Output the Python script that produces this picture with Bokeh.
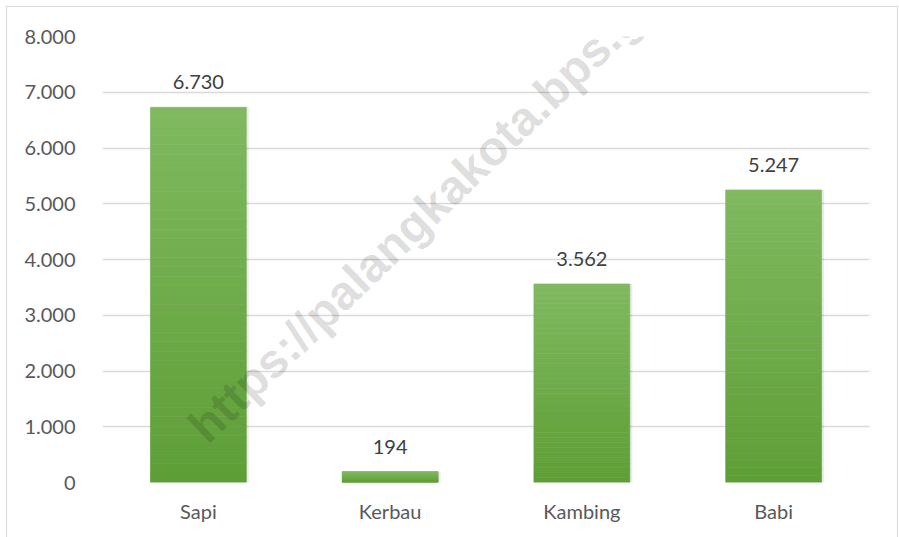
from bokeh.plotting import figure
from bokeh.models import (ColumnDataSource, Range1d, FactorRange, FixedTicker,
                          LabelSet, Label)
from bokeh.core.properties import value
from bokeh.transform import dodge
from bokeh.embed import file_html
from bokeh.resources import INLINE

# ---- data ----
categories = ["Sapi", "Kerbau", "Kambing", "Babi"]
values = [6730, 194, 3562, 5247]
y_ticks = [0, 1000, 2000, 3000, 4000, 5000, 6000, 7000, 8000]
y_tick_labels = ["0", "1.000", "2.000", "3.000", "4.000", "5.000", "6.000", "7.000", "8.000"]
watermark = "https://palangkakota.bps.go.id"

FONT = "Lato"
W, H = 892, 540

p = figure(x_range=FactorRange(*categories, range_padding=0),
           y_range=Range1d(0, 8000),
           width=W, height=H, output_backend="svg", toolbar_location=None,
           min_border_left=95, min_border_right=30, min_border_top=29,
           min_border_bottom=65, background_fill_color="white",
           border_fill_color="white", outline_line_color=None,
           margin=(6, 0, 0, 6),
           styles={"border": "1px solid #d9d9d9", "box-sizing": "border-box"})

# gradient bars (per-bar vertical gradient, built from the values)
N = 40
bottom_rgb = (94, 158, 54)
top_rgb = (128, 185, 96)
xs, bots, tops, cols = [], [], [], []
for c, v in zip(categories, values):
    for i in range(N):
        t = (i + 0.5) / N
        rgb = tuple(int(round(b + (tp - b) * t)) for b, tp in zip(bottom_rgb, top_rgb))
        xs.append(c)
        bots.append(v * i / N)
        tops.append(v * (i + 1) / N)
        cols.append("#%02x%02x%02x" % rgb)
grad = ColumnDataSource(dict(x=xs, bottom=bots, top=tops, color=cols))

bars = ColumnDataSource(dict(x=categories, top=values,
                             label=[f"{v:,}".replace(",", ".") for v in values]))

# soft shadow
p.vbar(x=dodge("x", 0.006, range=p.x_range), top="top", bottom=0, width=0.515,
       source=bars, fill_color="black", fill_alpha=0.08, line_color=None)
p.vbar(x="x", top="top", bottom="bottom", width=0.5, source=grad,
       fill_color="color", line_color="color", line_width=0.6)

labels = LabelSet(x="x", y="top", text="label", source=bars, text_align="center",
                  text_baseline="alphabetic", y_offset=18, text_font=value(FONT),
                  text_font_size=value("20px"), text_color=value("#404040"))
p.add_layout(labels)

wm = Label(x=0.49, y=880, text=watermark, angle=44, angle_units="deg",
           text_font="Liberation Sans", text_font_style="bold",
           text_font_size="48px", text_color="black", text_alpha=0.15,
           text_align="left", text_baseline="alphabetic")
p.add_layout(wm)

# axes
p.yaxis.ticker = FixedTicker(ticks=y_ticks)
p.yaxis.major_label_overrides = {t: l for t, l in zip(y_ticks, y_tick_labels)}
for ax in (p.xaxis, p.yaxis):
    ax.axis_line_color = None
    ax.major_tick_line_color = None
    ax.minor_tick_line_color = None
    ax.major_label_text_font = FONT
    ax.major_label_text_font_size = "20px"
    ax.major_label_text_color = "#595959"
p.yaxis.major_label_standoff = 21
p.xaxis.major_label_standoff = 10

p.xgrid.grid_line_color = None
p.ygrid.grid_line_color = "#d9d9d9"
p.ygrid.grid_line_width = 1.3

open("out.html", "w").write(file_html(p, INLINE))
